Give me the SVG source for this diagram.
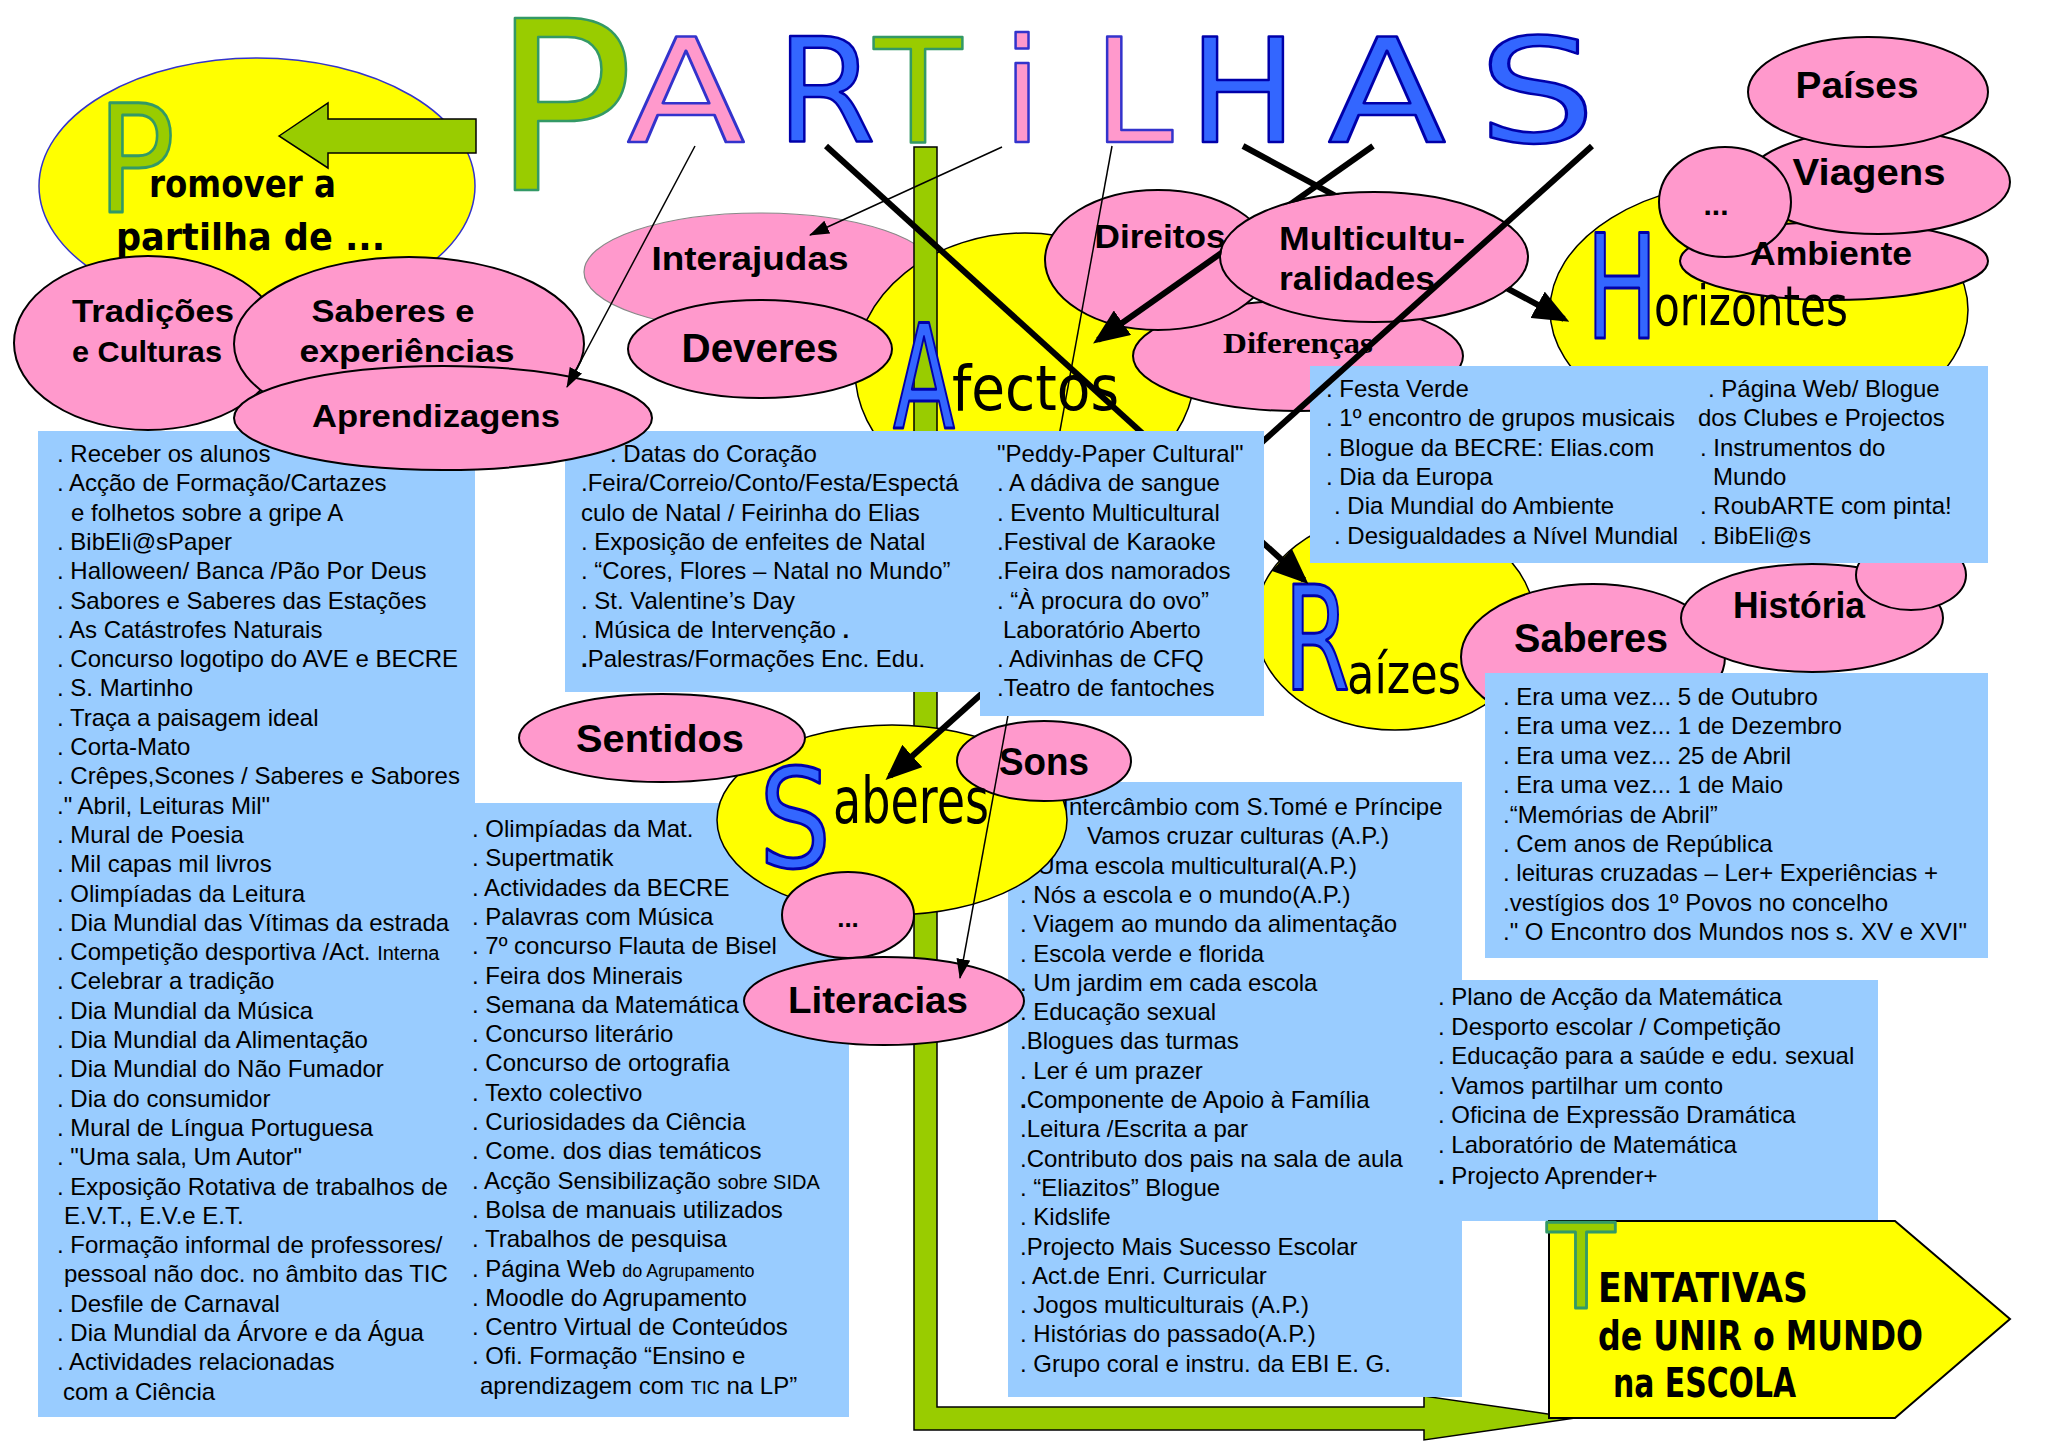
<svg xmlns="http://www.w3.org/2000/svg" width="2048" height="1449" viewBox="0 0 2048 1449">
<defs>
<style>
.lst{font-family:"Liberation Sans",Arial,sans-serif;font-size:24px;fill:#000}
.lbl{font-family:"Liberation Sans",Arial,sans-serif;font-weight:bold;fill:#000;text-anchor:middle}
.pk{fill:#ff99cc;stroke:#000;stroke-width:2}
.yl{fill:#ffff00;stroke:#000;stroke-width:1.5}
.bx{fill:#99ccff}
.cap{font-family:"DejaVu Sans",sans-serif;text-anchor:middle;stroke-width:2.5;stroke-linejoin:round}
.ini{font-family:"DejaVu Sans",sans-serif;text-anchor:middle;stroke-width:3;stroke-linejoin:round}
.blu{fill:#3366ff;stroke:#0000aa}
.pnk{fill:#ff99cc;stroke:#3333cc}
.grn{fill:#99cc00;stroke:#339966}
.cm{font-family:"DejaVu Sans",sans-serif;fill:#000}
.thk{stroke:#000;stroke-width:6;fill:none}
.thn{stroke:#000;stroke-width:1.5;fill:none}
</style>
<marker id="hThick" markerUnits="userSpaceOnUse" viewBox="0 0 36 30" markerWidth="36" markerHeight="30" refX="30" refY="15" orient="auto"><path d="M0,0 L36,15 L0,30 Z" fill="#000"/></marker>
<marker id="hThin" markerUnits="userSpaceOnUse" viewBox="0 0 20 14" markerWidth="20" markerHeight="14" refX="19" refY="7" orient="auto"><path d="M0,0 L20,7 L0,14 Z" fill="#000"/></marker>
<mask id="mBox" maskUnits="userSpaceOnUse" x="0" y="0" width="2048" height="1449"><rect width="2048" height="1449" fill="#fff"/><rect x="565" y="431" width="415" height="261" fill="#000"/><rect x="980" y="431" width="284" height="285" fill="#000"/></mask>
<mask id="mMul" maskUnits="userSpaceOnUse" x="0" y="0" width="2048" height="1449"><rect width="2048" height="1449" fill="#fff"/><ellipse cx="1374" cy="257" rx="153" ry="64" fill="#000"/></mask>
</defs>
<rect width="2048" height="1449" fill="#fff"/>

<g id="promover">
<ellipse cx="257" cy="186" rx="218" ry="128" fill="#ffff00" stroke="#3333cc" stroke-width="1.5"/>
<path d="M279,136 L328,103 L328,119 L476,119 L476,153 L328,153 L328,168 Z" fill="#99cc00" stroke="#000" stroke-width="1.5"/>
<text class="ini grn" x="136" y="212" font-size="150" textLength="78" lengthAdjust="spacingAndGlyphs">P</text>
<text class="cm" x="149" y="197" font-size="38" font-weight="bold" textLength="187" lengthAdjust="spacingAndGlyphs">romover a</text>
<text class="cm" x="116" y="250" font-size="38" font-weight="bold" textLength="269" lengthAdjust="spacingAndGlyphs">partilha de ...</text>
</g>

<g id="title">
<text class="cap grn" x="563" y="190" font-size="236" stroke-width="3">P</text>
<text class="cap pnk" x="686" y="142" font-size="144" textLength="118" lengthAdjust="spacingAndGlyphs">A</text>
<text class="cap blu" x="826" y="142" font-size="144">R</text>
<text class="cap grn" x="918" y="142" font-size="144">T</text>
<text class="cap pnk" x="1022" y="142" font-size="144" stroke-width="4">i</text>
<text class="cap pnk" x="1133" y="142" font-size="144">L</text>
<text class="cap blu" x="1243" y="142" font-size="144">H</text>
<text class="cap blu" x="1387" y="142" font-size="144" textLength="118" lengthAdjust="spacingAndGlyphs">A</text>
<text class="cap blu" x="1537" y="142" font-size="144" textLength="118" lengthAdjust="spacingAndGlyphs">S</text>
</g>

<g id="interajudas">
<ellipse cx="760" cy="272" rx="176" ry="59" fill="#ff99cc" stroke="#888" stroke-width="1.2"/>
<text class="lbl" x="750" y="270" font-size="34" textLength="197" lengthAdjust="spacingAndGlyphs">Interajudas</text>
</g>

<g id="afectos">
<ellipse class="yl" cx="1025" cy="370" rx="170" ry="137"/>
</g>

<g id="stem">
<path d="M914,147 L937,147 L937,1407 L1424,1407 L1424,1396 L1575,1418 L1424,1440 L1424,1430 L914,1430 Z" fill="#99cc00" stroke="#000" stroke-width="1.5"/>
</g>

<g id="afectos-label">
<text class="ini blu" x="924" y="428" font-size="145" textLength="62" lengthAdjust="spacingAndGlyphs">A</text>
<text class="cm" x="952" y="410" font-size="62" textLength="167" lengthAdjust="spacingAndGlyphs">fectos</text>
</g>

<g id="deveres">
<ellipse class="pk" cx="760" cy="349" rx="132" ry="49"/>
<text class="lbl" x="760" y="362" font-size="40" textLength="157" lengthAdjust="spacingAndGlyphs">Deveres</text>
</g>

<g id="diferencas">
<ellipse class="pk" cx="1298" cy="356" rx="165" ry="55"/>
<text x="1298" y="353" font-family="Liberation Serif, serif" font-weight="bold" font-size="30" text-anchor="middle" textLength="150" lengthAdjust="spacingAndGlyphs">Diferenças</text>
</g>

<g id="direitos">
<ellipse class="pk" cx="1158" cy="260" rx="113" ry="70"/>
<text class="lbl" x="1160" y="248" font-size="33" textLength="131" lengthAdjust="spacingAndGlyphs">Direitos</text>
</g>

<g id="multiculturalidades">
<ellipse class="pk" cx="1374" cy="257" rx="154" ry="65"/>
<text class="lbl" x="1372" y="250" font-size="33" textLength="186" lengthAdjust="spacingAndGlyphs">Multicultu-</text>
<text class="lbl" x="1357" y="290" font-size="33" textLength="156" lengthAdjust="spacingAndGlyphs">ralidades</text>
</g>

<g id="horizontes">
<ellipse class="yl" cx="1759" cy="310" rx="209" ry="130"/>
<ellipse class="pk" cx="1834" cy="261" rx="154" ry="39"/>
<ellipse class="pk" cx="1878" cy="182" rx="132" ry="52"/>
<ellipse class="pk" cx="1868" cy="92" rx="120" ry="55"/>
<ellipse class="pk" cx="1725" cy="202" rx="66" ry="55"/>
<text class="lbl" x="1857" y="98" font-size="36" textLength="123" lengthAdjust="spacingAndGlyphs">Países</text>
<text class="lbl" x="1869" y="185" font-size="36" textLength="153" lengthAdjust="spacingAndGlyphs">Viagens</text>
<text class="lbl" x="1831" y="265" font-size="33" textLength="162" lengthAdjust="spacingAndGlyphs">Ambiente</text>
<text class="lbl" x="1716" y="215" font-size="30" font-weight="normal">...</text>
<text class="ini blu" x="1622" y="338" font-size="144" textLength="72" lengthAdjust="spacingAndGlyphs">H</text>
<text class="cm" x="1654" y="325" font-size="56" textLength="194" lengthAdjust="spacingAndGlyphs">orizontes</text>
</g>

<g id="raizes">
<ellipse class="yl" cx="1395" cy="622" rx="140" ry="108"/>
<text class="ini blu" x="1317" y="690" font-size="144" textLength="66" lengthAdjust="spacingAndGlyphs">R</text>
<text class="cm" x="1347" y="693" font-size="56" textLength="114" lengthAdjust="spacingAndGlyphs">aízes</text>
<ellipse class="pk" cx="1593" cy="657" rx="132" ry="73"/>
<ellipse class="pk" cx="1812" cy="618" rx="131" ry="54"/>
<ellipse class="pk" cx="1911" cy="575" rx="55" ry="35"/>
<text class="lbl" x="1591" y="652" font-size="40" textLength="154" lengthAdjust="spacingAndGlyphs">Saberes</text>
<text class="lbl" x="1799" y="618" font-size="36" textLength="132" lengthAdjust="spacingAndGlyphs">História</text>
</g>

<g id="box-promover">
<rect class="bx" x="38" y="431" width="437" height="986"/>
<rect class="bx" x="475" y="803" width="374" height="614"/>
<text class="lst">
<tspan x="57" y="462">. Receber os alunos</tspan>
<tspan x="57" y="491.3">. Acção de Formação/Cartazes</tspan>
<tspan x="71" y="520.6">e folhetos sobre a gripe A</tspan>
<tspan x="57" y="549.9">. BibEli@sPaper</tspan>
<tspan x="57" y="579.2">. Halloween/ Banca /Pão Por Deus</tspan>
<tspan x="57" y="608.5">. Sabores  e Saberes das Estações</tspan>
<tspan x="57" y="637.8">. As Catástrofes Naturais</tspan>
<tspan x="57" y="667.1">. Concurso logotipo do AVE e BECRE</tspan>
<tspan x="57" y="696.4">. S. Martinho</tspan>
<tspan x="57" y="725.7">. Traça a paisagem ideal</tspan>
<tspan x="57" y="755">. Corta-Mato</tspan>
<tspan x="57" y="784.3">. Crêpes,Scones / Saberes e Sabores</tspan>
<tspan x="57" y="813.6">." Abril, Leituras Mil"</tspan>
<tspan x="57" y="842.9">. Mural de Poesia</tspan>
<tspan x="57" y="872.2">. Mil capas mil livros</tspan>
<tspan x="57" y="901.5">. Olimpíadas da Leitura</tspan>
<tspan x="57" y="930.8">. Dia Mundial das Vítimas da estrada</tspan>
<tspan x="57" y="960.1">. Competição desportiva /Act. <tspan font-size="20">Interna</tspan></tspan>
<tspan x="57" y="989.4">. Celebrar a tradição</tspan>
<tspan x="57" y="1018.7">. Dia Mundial da Música</tspan>
<tspan x="57" y="1048">. Dia Mundial da Alimentação</tspan>
<tspan x="57" y="1077.3">. Dia Mundial do Não Fumador</tspan>
<tspan x="57" y="1106.6">. Dia do consumidor</tspan>
<tspan x="57" y="1135.9">. Mural de Língua Portuguesa</tspan>
<tspan x="57" y="1165.2">. "Uma sala, Um Autor"</tspan>
<tspan x="57" y="1194.5">. Exposição Rotativa de trabalhos de</tspan>
<tspan x="64" y="1223.8">E.V.T., E.V.e E.T.</tspan>
<tspan x="57" y="1253.1">. Formação informal de professores/</tspan>
<tspan x="64" y="1282.4">pessoal não doc. no âmbito das TIC</tspan>
<tspan x="57" y="1311.7">. Desfile  de Carnaval</tspan>
<tspan x="57" y="1341">. Dia Mundial da Árvore e da Água</tspan>
<tspan x="57" y="1370.3">. Actividades relacionadas</tspan>
<tspan x="63" y="1399.6">com a Ciência</tspan>
</text>
<text class="lst">
<tspan x="472" y="837">. Olimpíadas da Mat.</tspan>
<tspan x="472" y="866.3">. Supertmatik</tspan>
<tspan x="472" y="895.6">. Actividades da BECRE</tspan>
<tspan x="472" y="924.9">. Palavras com Música</tspan>
<tspan x="472" y="954.2">. 7º concurso  Flauta de Bisel</tspan>
<tspan x="472" y="983.5">. Feira dos Minerais</tspan>
<tspan x="472" y="1012.8">. Semana da Matemática</tspan>
<tspan x="472" y="1042.1">. Concurso literário</tspan>
<tspan x="472" y="1071.4">. Concurso de ortografia</tspan>
<tspan x="472" y="1100.7">. Texto colectivo</tspan>
<tspan x="472" y="1130">. Curiosidades da Ciência</tspan>
<tspan x="472" y="1159.3">. Come. dos dias temáticos</tspan>
<tspan x="472" y="1188.6">. Acção Sensibilização <tspan font-size="20">sobre SIDA</tspan></tspan>
<tspan x="472" y="1217.9">.  Bolsa de manuais utilizados</tspan>
<tspan x="472" y="1247.2">. Trabalhos de pesquisa</tspan>
<tspan x="472" y="1276.5">. Página Web <tspan font-size="18">do Agrupamento</tspan></tspan>
<tspan x="472" y="1305.8">. Moodle do Agrupamento</tspan>
<tspan x="472" y="1335.1">. Centro Virtual de Conteúdos</tspan>
<tspan x="472" y="1364.4">. Ofi. Formação “Ensino e</tspan>
<tspan x="480" y="1393.7">aprendizagem com <tspan font-size="18">TIC</tspan> na LP”</tspan>
</text>
</g>

<g id="box-afectos">
<rect class="bx" x="565" y="431" width="415" height="261"/>
<rect class="bx" x="980" y="431" width="284" height="285"/>
<text class="lst">
<tspan x="610" y="462">. Datas do Coração</tspan>
<tspan x="581" y="491.3">.Feira/Correio/Conto/Festa/Espectá</tspan>
<tspan x="581" y="520.6">culo  de Natal / Feirinha do Elias</tspan>
<tspan x="581" y="549.9">. Exposição de enfeites de Natal</tspan>
<tspan x="581" y="579.2">. “Cores, Flores – Natal no Mundo”</tspan>
<tspan x="581" y="608.5">. St. Valentine’s Day</tspan>
<tspan x="581" y="637.8">. Música de Intervenção <tspan font-weight="bold">.</tspan></tspan>
<tspan x="581" y="667.1"><tspan font-weight="bold">.</tspan>Palestras/Formações Enc. Edu.</tspan>
</text>
<text class="lst">
<tspan x="997" y="462">"Peddy-Paper Cultural"</tspan>
<tspan x="997" y="491.3">. A dádiva de sangue</tspan>
<tspan x="997" y="520.6">. Evento Multicultural</tspan>
<tspan x="997" y="549.9">.Festival de Karaoke</tspan>
<tspan x="997" y="579.2">.Feira dos namorados</tspan>
<tspan x="997" y="608.5">. “À procura do ovo”</tspan>
<tspan x="1003" y="637.8">Laboratório Aberto</tspan>
<tspan x="997" y="667.1">. Adivinhas de CFQ</tspan>
<tspan x="997" y="696.4">.Teatro de fantoches</tspan>
</text>
</g>

<g id="box-horizontes">
<rect class="bx" x="1310" y="366" width="678" height="197"/>
<text class="lst">
<tspan x="1326" y="397">. Festa Verde</tspan>
<tspan x="1326" y="426.3">. 1º encontro de grupos musicais</tspan>
<tspan x="1326" y="455.6">. Blogue da BECRE: Elias.com</tspan>
<tspan x="1326" y="484.9">. Dia da Europa</tspan>
<tspan x="1334" y="514.2">. Dia Mundial do Ambiente</tspan>
<tspan x="1334" y="543.5">. Desigualdades a Nível Mundial</tspan>
<tspan x="1708" y="397">. Página Web/ Blogue</tspan>
<tspan x="1698" y="426.3">dos Clubes e Projectos</tspan>
<tspan x="1700" y="455.6">. Instrumentos do</tspan>
<tspan x="1713" y="484.9">Mundo</tspan>
<tspan x="1700" y="514.2">. RoubARTE com pinta!</tspan>
<tspan x="1700" y="543.5">. BibEli@s</tspan>
</text>
</g>

<g id="box-raizes">
<rect class="bx" x="1485" y="673" width="503" height="285"/>
<text class="lst">
<tspan x="1503" y="705">. Era uma vez... 5 de Outubro</tspan>
<tspan x="1503" y="734.4">. Era uma vez... 1 de Dezembro</tspan>
<tspan x="1503" y="763.8">. Era uma vez... 25 de Abril</tspan>
<tspan x="1503" y="793.2">. Era uma vez... 1 de Maio</tspan>
<tspan x="1503" y="822.6">.“Memórias de Abril”</tspan>
<tspan x="1503" y="852">. Cem anos de República</tspan>
<tspan x="1503" y="881.4">. leituras cruzadas – Ler+ Experiências +</tspan>
<tspan x="1503" y="910.8">.vestígios dos 1º Povos no concelho</tspan>
<tspan x="1503" y="940.2">." O Encontro dos Mundos nos s. XV e XVI"</tspan>
</text>
</g>

<g id="box-saberes">
<rect class="bx" x="1008" y="782" width="454" height="615"/>
<text class="lst">
<tspan x="1049" y="815">. Intercâmbio com S.Tomé e Príncipe</tspan>
<tspan x="1087" y="844.3">Vamos cruzar culturas (A.P.)</tspan>
<tspan x="1024" y="873.6">. Uma escola multicultural(A.P.)</tspan>
<tspan x="1020" y="902.9">. Nós a escola e o mundo(A.P.)</tspan>
<tspan x="1020" y="932.2">. Viagem ao mundo da alimentação</tspan>
<tspan x="1020" y="961.5">. Escola verde e florida</tspan>
<tspan x="1020" y="990.8">. Um jardim em cada escola</tspan>
<tspan x="1020" y="1020.1">. Educação sexual</tspan>
<tspan x="1020" y="1049.4">.Blogues das turmas</tspan>
<tspan x="1020" y="1078.7">. Ler é um prazer</tspan>
<tspan x="1020" y="1108"><tspan font-weight="bold">.</tspan>Componente de Apoio à Família</tspan>
<tspan x="1020" y="1137.3">.Leitura /Escrita a par</tspan>
<tspan x="1020" y="1166.6">.Contributo dos pais na sala de aula</tspan>
<tspan x="1020" y="1195.9">. “Eliazitos” Blogue</tspan>
<tspan x="1020" y="1225.2">. Kidslife</tspan>
<tspan x="1020" y="1254.5">.Projecto Mais Sucesso Escolar</tspan>
<tspan x="1020" y="1283.8">. Act.de Enri. Curricular</tspan>
<tspan x="1020" y="1313.1">. Jogos multiculturais (A.P.)</tspan>
<tspan x="1020" y="1342.4">. Histórias do passado(A.P.)</tspan>
<tspan x="1020" y="1371.7">. Grupo coral e instru. da EBI E. G.</tspan>
</text>
</g>

<g id="box-tentativas">
<rect class="bx" x="1437" y="980" width="441" height="241"/>
<text class="lst">
<tspan x="1438" y="1005">. Plano de Acção da Matemática</tspan>
<tspan x="1438" y="1034.5">. Desporto escolar / Competição</tspan>
<tspan x="1438" y="1064">. Educação para a saúde e edu. sexual</tspan>
<tspan x="1438" y="1093.5">. Vamos partilhar um conto</tspan>
<tspan x="1438" y="1123">. Oficina de Expressão Dramática</tspan>
<tspan x="1438" y="1152.5">. Laboratório de Matemática</tspan>
<tspan x="1438" y="1184"><tspan font-weight="bold">.</tspan> Projecto Aprender+</tspan>
</text>
</g>

<g id="tradicoes">
<ellipse class="pk" cx="148" cy="343" rx="134" ry="87"/>
<text class="lbl" x="153" y="322" font-size="32" textLength="162" lengthAdjust="spacingAndGlyphs">Tradições</text>
<text class="lbl" x="147" y="362" font-size="30" textLength="150" lengthAdjust="spacingAndGlyphs">e Culturas</text>
</g>
<g id="saberes-experiencias">
<ellipse class="pk" cx="409" cy="344" rx="175" ry="87"/>
<text class="lbl" x="393" y="322" font-size="32" textLength="163" lengthAdjust="spacingAndGlyphs">Saberes e</text>
<text class="lbl" x="407" y="362" font-size="32" textLength="215" lengthAdjust="spacingAndGlyphs">experiências</text>
</g>
<g id="aprendizagens">
<ellipse class="pk" cx="443" cy="418" rx="209" ry="52"/>
<text class="lbl" x="436" y="427" font-size="32" textLength="248" lengthAdjust="spacingAndGlyphs">Aprendizagens</text>
</g>

<g id="saberes">
<ellipse class="yl" cx="892" cy="820" rx="175" ry="95"/>
<ellipse class="pk" cx="662" cy="738" rx="143" ry="44"/>
<text class="lbl" x="660" y="752" font-size="38" textLength="168" lengthAdjust="spacingAndGlyphs">Sentidos</text>
<ellipse class="pk" cx="1044" cy="761" rx="87" ry="40"/>
<text class="lbl" x="1044" y="775" font-size="38" textLength="90" lengthAdjust="spacingAndGlyphs">Sons</text>
<ellipse class="pk" cx="848" cy="915" rx="66" ry="43"/>
<text class="lbl" x="848" y="927" font-size="26" font-weight="normal">...</text>
<ellipse class="pk" cx="884" cy="1001" rx="140" ry="44"/>
<text class="lbl" x="878" y="1013" font-size="36" textLength="180" lengthAdjust="spacingAndGlyphs">Literacias</text>
<text class="ini blu" x="795" y="867" font-size="137" textLength="72" lengthAdjust="spacingAndGlyphs">S</text>
<text class="cm" x="833" y="823" font-size="64" textLength="156" lengthAdjust="spacingAndGlyphs">aberes</text>
</g>

<g id="tentativas">
<path d="M1549,1221 L1895,1221 L2010,1319 L1895,1418 L1549,1418 Z" fill="#ffff00" stroke="#000" stroke-width="2"/>
<text class="ini grn" x="1581" y="1308" font-size="118" textLength="68" lengthAdjust="spacingAndGlyphs">T</text>
<text class="cm" x="1598" y="1302" font-size="40" font-weight="bold" textLength="210" lengthAdjust="spacingAndGlyphs">ENTATIVAS</text>
<text class="cm" x="1598" y="1350" font-size="40" font-weight="bold" textLength="325" lengthAdjust="spacingAndGlyphs">de UNIR o MUNDO</text>
<text class="cm" x="1613" y="1397" font-size="40" font-weight="bold" textLength="183" lengthAdjust="spacingAndGlyphs">na ESCOLA</text>
</g>

<g id="connectors">
<line class="thn" x1="695" y1="146" x2="567" y2="387" marker-end="url(#hThin)"/>
<line class="thn" x1="1002" y1="147" x2="810" y2="235" marker-end="url(#hThin)"/>
<line class="thn" x1="1112" y1="146" x2="960" y2="978" marker-end="url(#hThin)" mask="url(#mBox)"/>
<line class="thk" x1="826" y1="146" x2="1304" y2="580" marker-end="url(#hThick)" mask="url(#mBox)"/>
<line class="thk" x1="1243" y1="146" x2="1564" y2="319" marker-end="url(#hThick)" mask="url(#mMul)"/>
<line class="thk" x1="1373" y1="146" x2="1098" y2="340" marker-end="url(#hThick)" mask="url(#mMul)"/>
<line class="thk" x1="1592" y1="146" x2="890" y2="776" marker-end="url(#hThick)" mask="url(#mBox)"/>
</g>
</svg>
